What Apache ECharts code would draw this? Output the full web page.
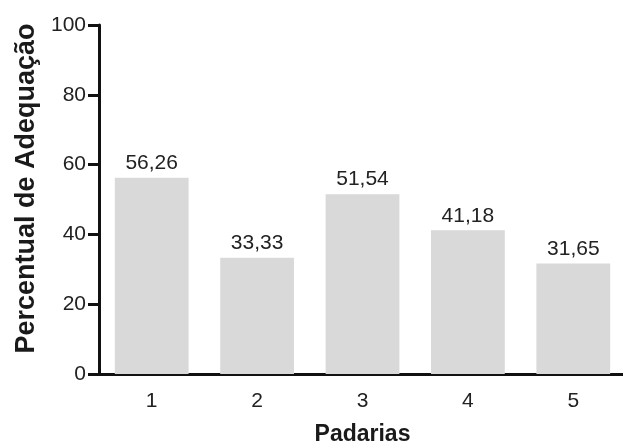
<!DOCTYPE html>
<html><head><meta charset="utf-8">
<script src="https://cdn.jsdelivr.net/npm/echarts@6/dist/echarts.min.js"></script>
<style>html,body{margin:0;padding:0;background:#fff}#c{width:623px;height:443px}</style>
</head><body><div id="c"></div>
<script>
var categories = ['1','2','3','4','5'];
var values = [56.26, 33.33, 51.54, 41.18, 31.65];
var yTicks = [0,20,40,60,80,100];
var chart = echarts.init(document.getElementById('c'), null, {renderer:'canvas'});
var font = 'Liberation Sans, Arial, sans-serif';
chart.setOption({
  animation:false,
  grid:{left:99, top:25, bottom:69, right:-3, containLabel:false, outerBoundsMode:'none'},
  xAxis:{type:'category', data:categories, name:'Padarias', nameLocation:'middle', nameGap:49,
    nameTextStyle:{fontFamily:font, fontWeight:'bold', fontSize:23, color:'#1a1a1a'},
    axisLine:{lineStyle:{color:'#111', width:3}},
    axisTick:{alignWithLabel:true, length:11, lineStyle:{color:'#111', width:3}},
    axisLabel:{fontFamily:font, fontSize:21, color:'#222', margin:17}},
  yAxis:{type:'value', min:0, max:100, interval:20, name:'Percentual de Adequação', nameLocation:'middle', nameGap:58,
    nameTextStyle:{fontFamily:font, fontWeight:'bold', fontSize:27, color:'#1a1a1a', padding:[0,0,0,22]},
    axisLine:{show:true, lineStyle:{color:'#111', width:3}},
    axisTick:{show:true, length:11, lineStyle:{color:'#111', width:3}},
    splitLine:{show:false},
    axisLabel:{fontFamily:font, fontSize:21, color:'#222', margin:13,
      formatter:function(v){return yTicks.indexOf(v)>=0?String(v):'';}}},
  series:[{type:'bar', data:values, barCategoryGap:'30%',
    itemStyle:{color:'#d9d9d9'},
    label:{show:true, position:'top', distance:4, fontFamily:font, fontSize:21, color:'#222',
      formatter:function(p){return p.value.toFixed(2).replace('.',',');}}}]
});
</script></body></html>
